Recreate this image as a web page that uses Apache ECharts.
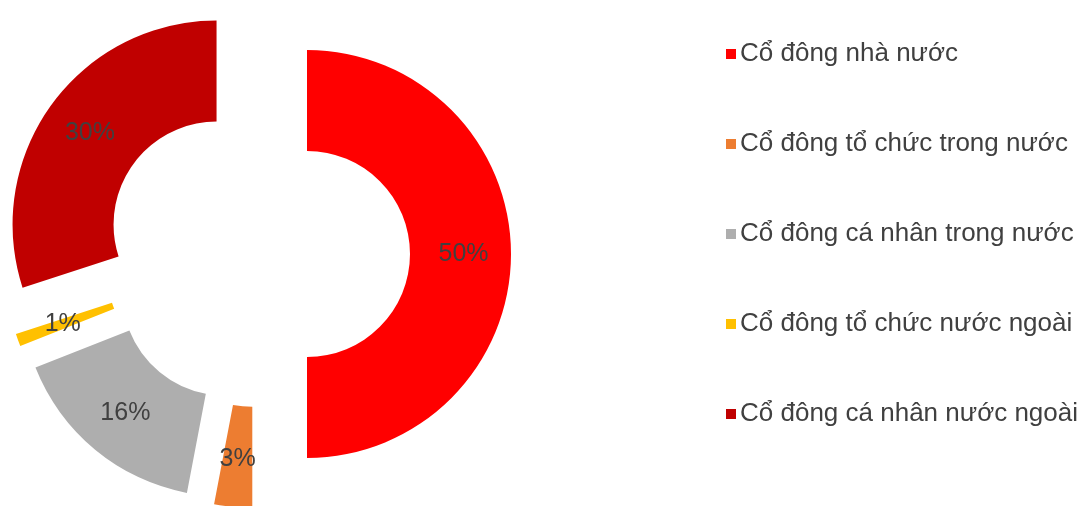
<!DOCTYPE html>
<html>
<head>
<meta charset="utf-8">
<script src="https://cdn.jsdelivr.net/npm/echarts@6/dist/echarts.min.js"></script>
<style>
html,body{margin:0;padding:0;background:#fff;}
#chart{width:1089px;height:506px;}
</style>
</head>
<body>
<div id="chart"></div>
<script>
const categories = ['Cổ đông nhà nước','Cổ đông tổ chức trong nước','Cổ đông cá nhân trong nước','Cổ đông tổ chức nước ngoài','Cổ đông cá nhân nước ngoài'];
const values = [50, 3, 16, 1, 30];
const colors = ['#FF0000','#ED7D31','#AEAEAE','#FFC000','#C00000'];

const chart = echarts.init(document.getElementById('chart'), null, {renderer:'canvas'});
chart.setOption({
  animation: false,
  backgroundColor: '#ffffff',
  legend: {
    orient: 'vertical',
    left: 721,
    top: 34,
    icon: 'rect',
    itemWidth: 10,
    itemHeight: 10,
    itemGap: 60,
    selectedMode: false,
    textStyle: { fontFamily: 'Liberation Sans', fontSize: 26, color: '#404040', lineHeight: 30, padding: [0,0,0,-1] },
    data: categories
  },
  series: [{
    type: 'pie',
    center: [257, 254],
    radius: [103, 204],
    startAngle: 90,
    clockwise: true,
    selectedMode: 'multiple',
    selectedOffset: 50,
    avoidLabelOverlap: false,
    emphasis: { disabled: true },
    label: {
      show: true,
      position: 'inside',
      formatter: '{c}%',
      fontFamily: 'Liberation Sans',
      fontSize: 25,
      color: '#404040'
    },
    labelLine: { show: false },
    data: categories.map((n, i) => ({
      name: n,
      value: values[i],
      selected: true,
      itemStyle: { color: colors[i] }
    }))
  }]
});
</script>
</body>
</html>
